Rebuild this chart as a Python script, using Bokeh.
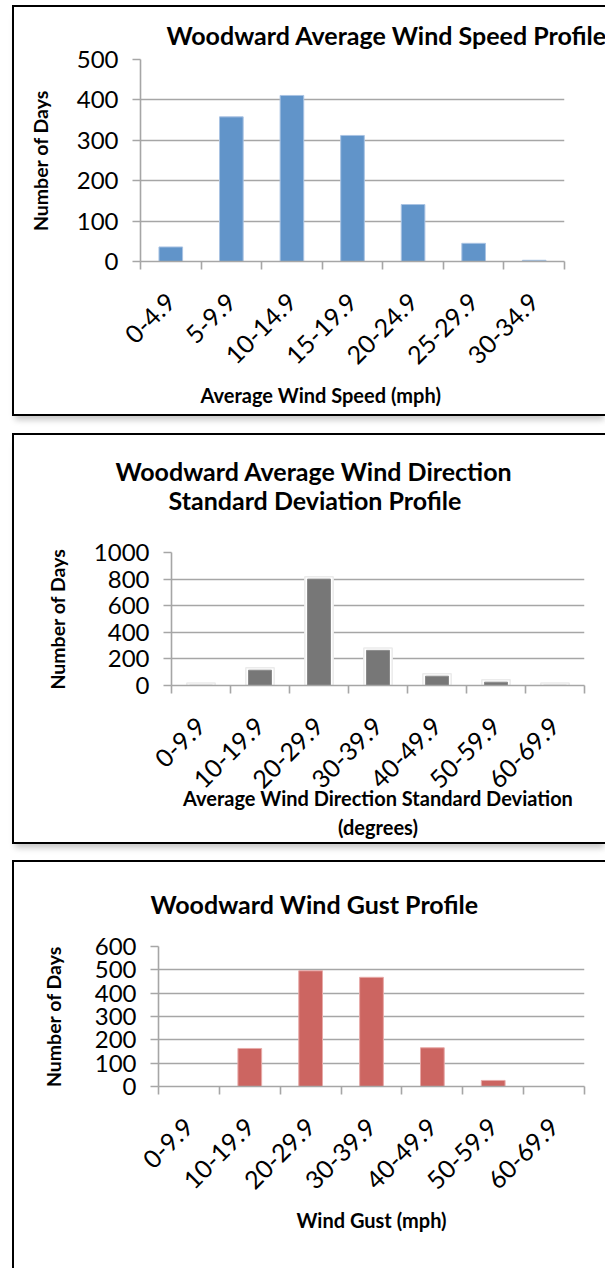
import math
from bokeh.plotting import figure
from bokeh.models import Range1d, FixedTicker, SingleIntervalTicker, Title
from bokeh.embed import file_html
from bokeh.resources import INLINE

# ---- data ----
speed_cats = ["0-4.9", "5-9.9", "10-14.9", "15-19.9", "20-24.9", "25-29.9", "30-34.9"]
speed_days = [36, 358, 411, 312, 141, 45, 3]

dir_cats = ["0-9.9", "10-19.9", "20-29.9", "30-39.9", "40-49.9", "50-59.9", "60-69.9"]
dir_days = [1, 115, 800, 264, 70, 25, 1]

gust_cats = ["0-9.9", "10-19.9", "20-29.9", "30-39.9", "40-49.9", "50-59.9", "60-69.9"]
gust_days = [0, 163, 496, 468, 166, 26, 0]

FONT = "Lato"
GRID = "#a6a6a6"
SHADOW = ("-2px 0 0 0 #000, 0 -2px 0 0 #000, -2px -2px 0 0 #000, 0 2px 0 0 #000, "
          "-2px 2px 0 0 #000, 0 7px 6px -1px rgba(0,0,0,0.22)")
SHADOW_OPEN = "-2px 0 0 0 #000, 0 -2px 0 0 #000, -2px -2px 0 0 #000"


def title(p, text, place, offset, standoff, size, valign="bottom"):
    p.add_layout(Title(text=text, align="left", offset=offset, standoff=standoff,
                       vertical_align=valign,
                       text_font=FONT, text_font_size=size, text_font_style="bold",
                       text_color="#000000"), place)


def make_panel(cats, vals, y_max, y_step, color, edge, width, height,
               left, right, top, bottom, margin, shadow, ylab_standoff, halo=False):
    n = len(cats)
    p = figure(width=width, height=height, x_range=Range1d(0, n),
               y_range=Range1d(0, y_max), output_backend="svg",
               toolbar_location=None, min_border_left=left,
               min_border_right=right, min_border_top=top,
               min_border_bottom=bottom)
    p.margin = margin
    p.styles = {"box-shadow": shadow}
    p.outline_line_color = None
    p.background_fill_color = "white"
    p.border_fill_color = "white"

    centers = [i + 0.5 for i in range(n)]
    if halo:
        p.vbar(x=centers, top=[v + y_max * 0.018 for v in vals], width=0.48,
               fill_color="white", line_color="#ebebeb", line_width=1.5)
    p.vbar(x=centers, top=vals, width=0.39, fill_color=color,
           line_color=edge, line_width=1)

    xa = p.xaxis[0]
    xa.ticker = FixedTicker(ticks=centers, minor_ticks=list(range(n + 1)))
    xa.major_label_overrides = {c: lab for c, lab in zip(centers, cats)}
    xa.major_label_orientation = math.pi / 4
    xa.major_tick_line_color = None
    xa.major_tick_out = 8
    xa.major_tick_in = 0
    xa.minor_tick_line_color = GRID
    xa.minor_tick_line_width = 1.6
    xa.minor_tick_out = 8
    xa.minor_tick_in = 0
    xa.axis_line_color = GRID
    xa.axis_line_width = 1.6
    xa.major_label_text_font = FONT
    xa.major_label_text_font_size = "25px"
    xa.major_label_text_color = "#000000"
    xa.major_label_standoff = 28
    xa.axis_label_text_font = FONT
    xa.axis_label_text_font_size = "20px"
    xa.axis_label_text_font_style = "bold"
    xa.axis_label_text_color = "#000000"

    ya = p.yaxis[0]
    ya.ticker = SingleIntervalTicker(interval=y_step, num_minor_ticks=0)
    ya.axis_line_color = GRID
    ya.axis_line_width = 1.6
    ya.major_tick_line_color = GRID
    ya.major_tick_line_width = 1.6
    ya.major_tick_out = 8
    ya.major_tick_in = 0
    ya.minor_tick_line_color = None
    ya.major_label_text_font = FONT
    ya.major_label_text_font_size = "24px"
    ya.major_label_text_color = "#000000"
    ya.major_label_standoff = 14
    ya.axis_label = "Number of Days"
    ya.axis_label_text_font = FONT
    ya.axis_label_text_font_size = "19.5px"
    ya.axis_label_text_font_style = "bold"
    ya.axis_label_text_color = "#000000"
    ya.axis_label_standoff = ylab_standoff

    p.xgrid.visible = False
    p.ygrid.grid_line_color = GRID
    p.ygrid.grid_line_width = 1.6
    return p


# Panel 1
p1 = make_panel(speed_cats, speed_days, 500, 100, "#6194c9", "#a9c3e3",
                591, 407, 126, 41, 52, 153, (7, 0, 0, 14), SHADOW, 22)
title(p1, "Woodward Average Wind Speed Profile", "above", 26, 20, "25px")
title(p1, "Average Wind Speed (mph)", "below", 60, 10, "20px")

# Panel 2
p2 = make_panel(dir_cats, dir_days, 1000, 200, "#777777", "#8a8a8a",
                591, 407, 157, 21, 117, 155, (21, 0, 0, 14), SHADOW, 22, halo=True)
title(p2, "Standard Deviation Profile", "above", -3, 76, "25px")
title(p2, "Woodward Average Wind Direction", "above", -56, -82, "25px")
p2.xaxis[0].axis_label = "Average Wind Direction Standard Deviation\n(degrees)"
p2.xaxis[0].axis_label_standoff = -13

# Panel 3
p3 = make_panel(gust_cats, gust_days, 600, 100, "#cc6561", "#e7aaa8",
                591, 406, 144, 21, 84, 182, (20, 0, 0, 14), SHADOW_OPEN, 27)
title(p3, "Woodward Wind Gust Profile", "above", -8, 52, "25px", valign="top")
p3.xaxis[0].axis_label = "Wind Gust (mph)"
p3.xaxis[0].axis_label_standoff = 8

open("out.html", "w").write(file_html([p1, p2, p3], INLINE))
